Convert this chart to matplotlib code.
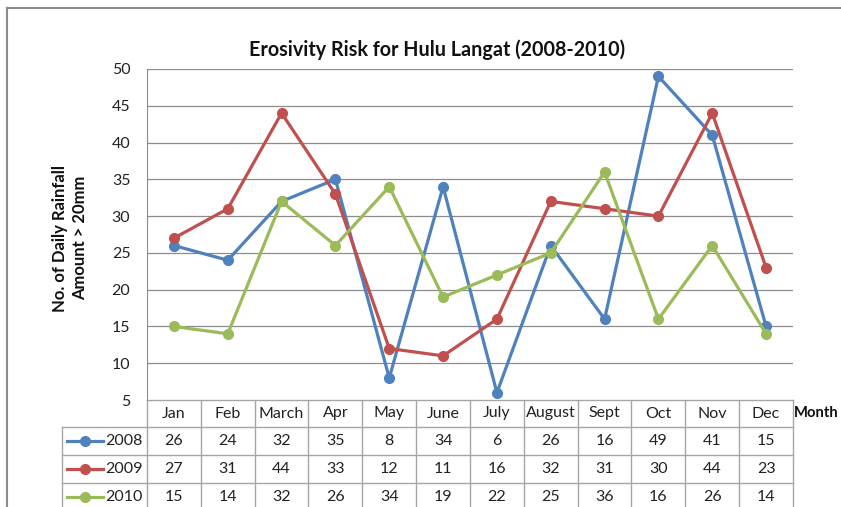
import matplotlib
matplotlib.use('Agg')
import matplotlib.pyplot as plt

# ===== DATA =====
months = ['Jan', 'Feb', 'March', 'Apr', 'May', 'June', 'July', 'August', 'Sept', 'Oct', 'Nov', 'Dec']
years = ['2008', '2009', '2010']
y2008 = [26, 24, 32, 35, 8, 34, 6, 26, 16, 49, 41, 15]
y2009 = [27, 31, 44, 33, 12, 11, 16, 32, 31, 30, 44, 23]
y2010 = [15, 14, 32, 26, 34, 19, 22, 25, 36, 16, 26, 14]
series = [y2008, y2009, y2010]
colors = ['#4F81BD', '#C0504D', '#9BBB59']

plt.rcParams['font.family'] = ['Lato', 'DejaVu Sans']

# ===== LAYOUT (pixels) =====
W, H = 841, 507
L, R, T, B = 147, 793, 69, 400
grid_c = '#8C8C8C'
tab_c = '#A6A6A6'

fig = plt.figure(figsize=(W / 100, H / 100), dpi=100)

ax = fig.add_axes([L / W, 1 - B / H, (R - L) / W, (B - T) / H])
x = list(range(len(months)))
for vals, c, lab in zip(series, colors, years):
    ax.plot(x, vals, color=c, lw=2.3, marker='o', ms=7, label=lab,
            clip_on=False, zorder=3)
ax.set_xlim(-0.5, len(months) - 0.5)
ax.set_ylim(5, 50)
ax.set_yticks(range(5, 51, 5))
ax.yaxis.grid(True, color=grid_c, lw=0.9)
ax.set_axisbelow(True)
ax.set_xticks([])
for s in ['top', 'right', 'bottom']:
    ax.spines[s].set_visible(False)
ax.spines['left'].set_color(grid_c)
ax.tick_params(axis='y', length=0, labelsize=11.5, pad=12, colors='#222222')

# ===== OVERLAY (table, frame, labels) =====
tab = fig.add_axes([0, 0, 1, 1], zorder=-1)
tab.set_xlim(0, W)
tab.set_ylim(H, 0)
tab.axis('off')

# outer frame
tab.plot([7.5, W], [7.5, 7.5], color='#8C8C8C', lw=1.5)
tab.plot([7.5, 7.5], [7.5, H], color='#8C8C8C', lw=1.5)

colw = (R - L) / len(months)
rows = [400, 427, 455, 483, 511]
legL = 62

# horizontal table lines
tab.plot([L, R], [rows[0], rows[0]], color=tab_c, lw=1)
for yy in rows[1:4]:
    tab.plot([legL, R], [yy, yy], color=tab_c, lw=1)
# vertical table lines
tab.plot([legL, legL], [rows[1], H], color=tab_c, lw=1)
for i in range(len(months) + 1):
    xx = L + colw * i
    tab.plot([xx, xx], [rows[0], H], color=tab_c, lw=1)

# header
for i, m in enumerate(months):
    tab.text(L + colw * (i + 0.5), (rows[0] + rows[1]) / 2, m, ha='center',
             va='center', fontsize=11.5, color='#222222')
# body
for r, (vals, c, lab) in enumerate(zip(series, colors, years)):
    yc = (rows[r + 1] + rows[r + 2]) / 2
    tab.plot([67, 103], [yc, yc], color=c, lw=2.3)
    tab.plot([85], [yc], marker='o', color=c, ms=7)
    tab.text(105, yc, lab, ha='left', va='center', fontsize=11.5, color='#222222')
    for i, v in enumerate(vals):
        tab.text(L + colw * (i + 0.5), yc, str(v), ha='center', va='center',
                 fontsize=11.5, color='#222222')

tab.text(794, 413, 'Month', ha='left', va='center', fontsize=10.6,
         fontweight='bold', color='#111111')

tab.text(70, 238, 'No. of Daily Rainfall\nAmount > 20mm', rotation=90,
         ha='center', va='center', multialignment='center', fontsize=12,
         fontweight='bold', color='#111111', linespacing=1.25)

tab.text(437, 50, 'Erosivity Risk for Hulu Langat (2008-2010)', ha='center',
         va='center', fontsize=14.2, fontweight='bold', color='#111111')

fig.savefig('out.png', dpi=100)
